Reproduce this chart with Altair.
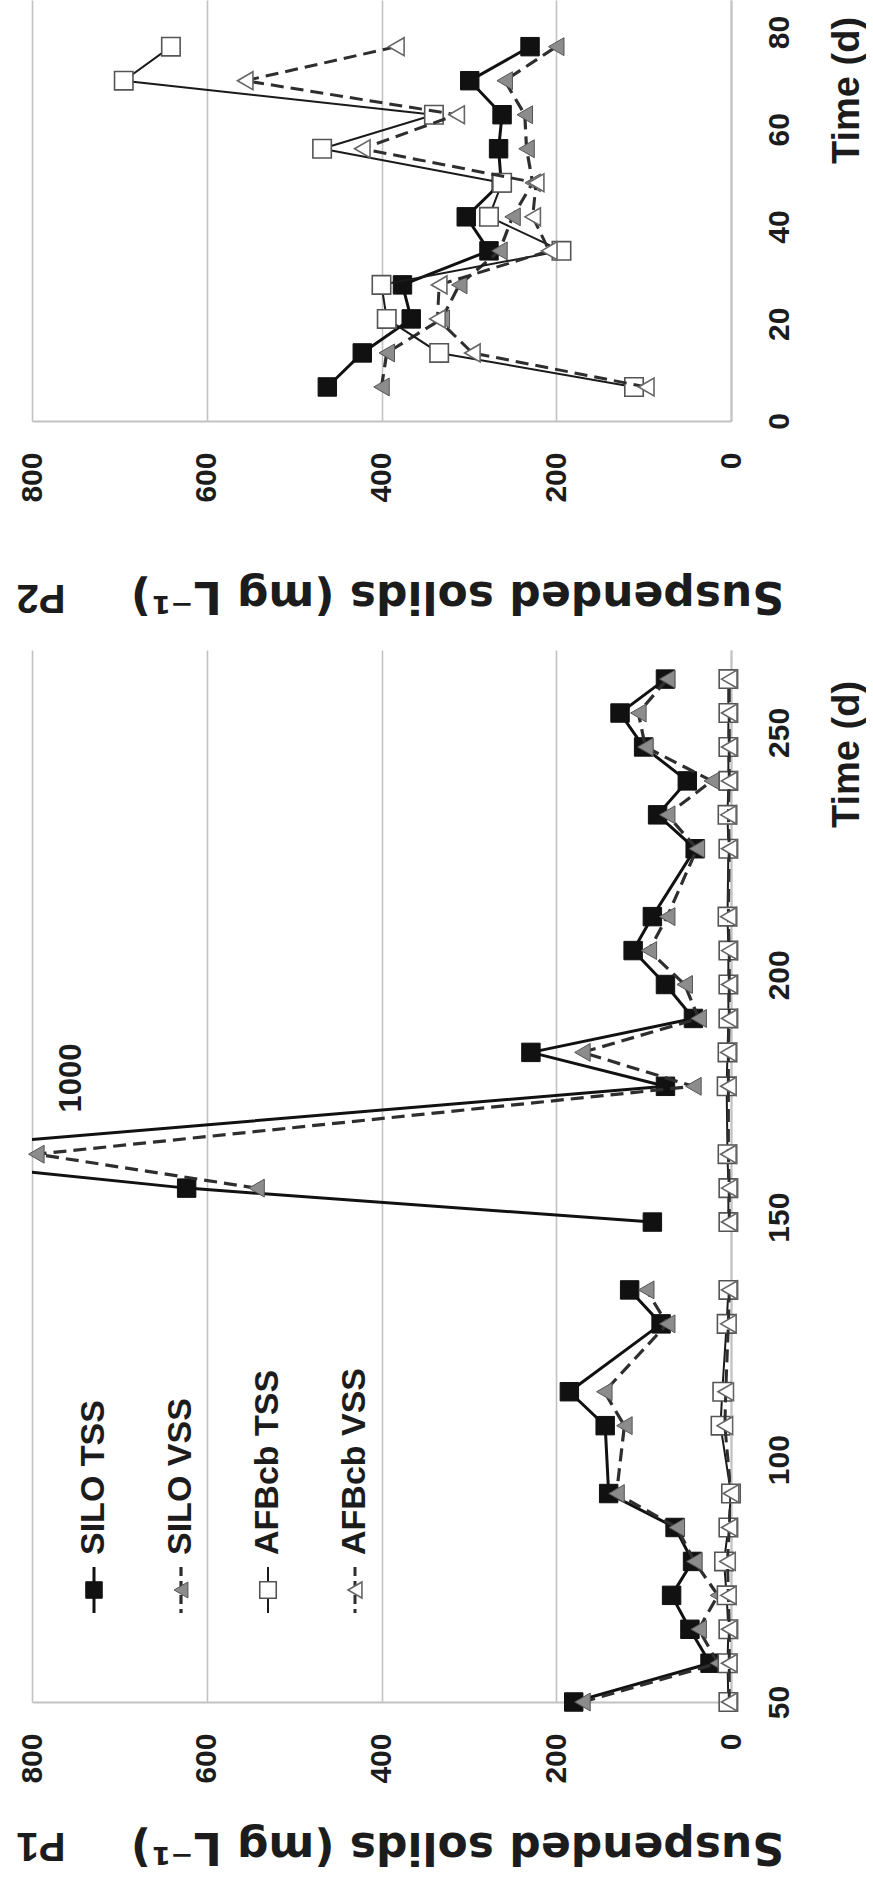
import altair as alt
import pandas as pd

# ---- data -------------------------------------------------------------
P2_DAYS = [7, 14, 21, 28, 35, 42, 49, 56, 63, 70, 77]
P2_SILO_TSS = [462, 422, 366, 376, 277, 303, 263, 266, 262, 299, 230]
P2_SILO_VSS = [400, 394, 331, 311, 265, 250, 227, 234, 236, 259, 200]
P2_AFB_TSS = [111, 334, 394, 400, 194, 277, 262, 468, 340, 695, 641]
P2_AFB_VSS = [97, 296, 336, 334, 208, 227, 223, 422, 314, 556, 383]

P1_DAYS = [50, 58, 65, 72, 79, 86, 93, 107, 114, 128, 135,
           149, 156, 163, 177, 184, 191, 198, 205, 212, 226, 233, 240, 247, 254, 261]
P1_SILO_TSS = [180, 24, 47, 68, 44, 64, 140, 144, 185, 80, 116,
               90, 623, 1000, 75, 229, 43, 75, 112, 90, 41, 84, 50, 100, 127, 75]
P1_SILO_VSS = [170, 15, 37, 15, 42, 62, 131, 122, 145, 73, 97,
               None, 543, 795, 43, 170, 37, 53, 94, 73, 39, 73, 22, 98, 106, 73]
P1_AFB_TSS = [3, 4, 3, 5, 8, 3, 0, 12, 10, 5, 3,
              3, 3, 4, 5, 4, 3, 3, 3, 4, 3, 4, 3, 3, 3, 3]
P1_AFB_VSS = [2, 2, 2, 3, 4, 2, 0, 7, 6, 3, 2,
              2, 2, 3, 3, 3, 2, 2, 2, 3, 2, 3, 2, 2, 2, 2]
P1_GAP_AFTER = 135  # no sampling between day 135 and day 149

SERIES = ["SILO TSS", "SILO VSS", "AFBcb TSS", "AFBcb VSS"]
VALUE_TICKS = [0, 200, 400, 600, 800]
P2_TIME_TICKS = [0, 20, 40, 60, 80]
P1_TIME_TICKS = [50, 100, 150, 200, 250]

# ---- styling ----------------------------------------------------------
LABEL_FONT = "Liberation Sans"
TITLE_FONT = "DejaVu Sans"
INK = "#1c1c1c"
GRID = "#c2c2c2"

STYLE = {
    "SILO TSS": dict(shape="square", fill="#111111", stroke="#111111", sw=1,
                     line="#111111", lw=3.0, dash=None),
    "SILO VSS": dict(shape="triangle-left", fill="#8c8c8c", stroke="#555555", sw=1,
                     line="#2e2e2e", lw=3.2, dash=[13, 7]),
    "AFBcb TSS": dict(shape="square", fill="#ffffff", stroke="#555555", sw=1.6,
                      line="#1a1a1a", lw=2.0, dash=None),
    "AFBcb VSS": dict(shape="triangle-left", fill="#ffffff", stroke="#666666", sw=1.6,
                      line="#2e2e2e", lw=3.0, dash=[13, 7]),
}
MARK_SIZE = {"square": 340, "triangle-left": 320}


def long_table(days, columns, gap_after=None):
    rows = []
    for name, values in zip(SERIES, columns):
        for d, v in zip(days, values):
            if v is None:
                continue
            seg = "b" if (gap_after is not None and d > gap_after) else "a"
            rows.append({"day": d, "value": v, "series": name, "seg": seg})
    return pd.DataFrame(rows)


def x_enc(title_y):
    return alt.X(
        "value:Q",
        scale=alt.Scale(domain=[0, 800], reverse=True, nice=False),
        axis=alt.Axis(
            values=VALUE_TICKS, grid=True, gridColor=GRID, gridWidth=1.6,
            domain=True, domainColor=GRID, domainWidth=2, ticks=False,
            labelAngle=270, labelAlign="right", labelBaseline="middle",
            labelPadding=31, labelFont=LABEL_FONT, labelFontSize=30,
            labelFontWeight="bold", labelColor=INK, labelFlush=False,
            labelOverlap=False,
            title="Suspended solids (mg L\u207b\u00b9)", titleAngle=180,
            titleFont=TITLE_FONT, titleFontSize=44, titleFontWeight="bold",
            titleColor=INK, titleX=425, titleY=title_y,
            titleAlign="center", titleBaseline="middle",
        ),
    )


def y_enc(domain, ticks, title_y):
    return alt.Y(
        "day:Q",
        scale=alt.Scale(domain=domain, nice=False, zero=False),
        axis=alt.Axis(
            orient="right", values=ticks, grid=False, domain=True,
            domainColor=GRID, domainWidth=2, ticks=False,
            labelAngle=270, labelAlign="center", labelBaseline="top",
            labelPadding=33, labelFont=LABEL_FONT, labelFontSize=30,
            labelFontWeight="bold", labelColor=INK, labelFlush=False,
            labelOverlap=False,
            title="Time (d)", titleAngle=270, titleFont=LABEL_FONT,
            titleFontSize=38, titleFontWeight="bold", titleColor=INK,
            titleX=116, titleY=title_y, titleAlign="center",
            titleBaseline="middle",
        ),
    )


def series_layers(df, name, x, y):
    st = STYLE[name]
    base = alt.Chart(df).transform_filter(alt.datum.series == name)
    line_kw = dict(color=st["line"], strokeWidth=st["lw"], clip=True)
    if st["dash"]:
        line_kw["strokeDash"] = st["dash"]
    # join the samples in time order
    line = base.mark_line(**line_kw).encode(
        x=x, y=y, detail="seg:N", order=alt.Order("day:Q"))
    pts = base.transform_filter(alt.datum.value <= 800).mark_point(
        shape=st["shape"], filled=True, fill=st["fill"], stroke=st["stroke"],
        strokeWidth=st["sw"], size=MARK_SIZE[st["shape"]], opacity=1,
        fillOpacity=1, strokeOpacity=1,
    ).encode(x=x, y=y)
    return [line, pts]


def panel_label(text, y_px):
    return alt.Chart(pd.DataFrame({"t": [text]})).mark_text(
        angle=180, font=LABEL_FONT, fontSize=40, fontWeight="bold",
        color=INK, align="center", baseline="middle",
    ).encode(x=alt.value(9), y=alt.value(y_px), text="t:N")


WIDTH = 699

# ---- P2 ---------------------------------------------------------------
p2_df = long_table(P2_DAYS, [P2_SILO_TSS, P2_SILO_VSS, P2_AFB_TSS, P2_AFB_VSS])
p2_x = x_enc(173)
p2_y = y_enc([0, 86.6], P2_TIME_TICKS, 90)
p2_layers = []
for s in SERIES:
    p2_layers += series_layers(p2_df, s, p2_x, p2_y)
p2_layers.append(panel_label("P2", 597))
p2 = alt.layer(*p2_layers).properties(width=WIDTH, height=421)

# ---- P1 ---------------------------------------------------------------
p1_df = long_table(P1_DAYS, [P1_SILO_TSS, P1_SILO_VSS, P1_AFB_TSS, P1_AFB_VSS],
                   gap_after=P1_GAP_AFTER)
p1_x = x_enc(143)
p1_y = y_enc([50, 267], P1_TIME_TICKS, 104)
p1_layers = []
for s in SERIES:
    p1_layers += series_layers(p1_df, s, p1_x, p1_y)

# label for the off-scale peak, taken from the peak value itself
peak_df = p1_df[p1_df.series == "SILO TSS"].nlargest(1, "value")
p1_layers.append(
    alt.Chart(peak_df).mark_text(
        angle=270, font=LABEL_FONT, fontSize=31, fontWeight="bold", color=INK,
        align="center", baseline="middle",
    ).encode(x=alt.value(40), y=alt.value(428), text=alt.Text("value:Q", format="d"))
)

# legend: rotated entries laid out in a row across the lower left
LEG_X0, LEG_STEP = 62, 87
LEG_TEXT_Y, LEG_SYM_Y, LEG_LINE = 905, 940, (917, 963)
for i, name in enumerate(SERIES):
    st = STYLE[name]
    lx = LEG_X0 + i * LEG_STEP
    one = alt.Chart(pd.DataFrame({"name": [name]}))
    rule_kw = dict(color=st["line"], strokeWidth=st["lw"])
    if st["dash"]:
        rule_kw["strokeDash"] = [9, 5]
    p1_layers.append(one.mark_rule(**rule_kw).encode(
        x=alt.value(lx), y=alt.value(LEG_LINE[0]), y2=alt.value(LEG_LINE[1])))
    p1_layers.append(one.mark_point(
        shape=st["shape"], filled=True, fill=st["fill"], stroke=st["stroke"],
        strokeWidth=st["sw"], size=MARK_SIZE[st["shape"]] * 0.8, opacity=1,
    ).encode(x=alt.value(lx), y=alt.value(LEG_SYM_Y)))
    p1_layers.append(one.mark_text(
        angle=270, font=LABEL_FONT, fontSize=34, fontWeight="bold", color=INK,
        align="left", baseline="middle",
    ).encode(x=alt.value(lx), y=alt.value(LEG_TEXT_Y), text="name:N"))

p1_layers.append(panel_label("P1", 1195))
p1 = alt.layer(*p1_layers).properties(width=WIDTH, height=1052)

chart = alt.vconcat(p2, p1, spacing=229, bounds="flush").configure_view(
    stroke=None
).properties(
    padding={"left": 16, "top": 0, "right": 0, "bottom": 10},
    background="white",
)

chart.save("out.html", embed_options={"renderer": "svg", "actions": False})
